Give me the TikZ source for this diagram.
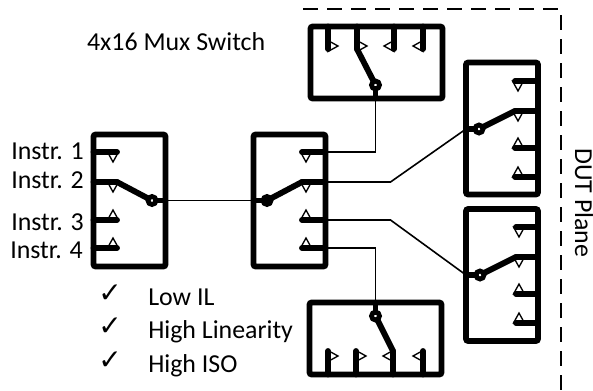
\documentclass[tikz,border=0pt]{standalone}
\usepackage{fontspec}
\setmainfont{Carlito}
\newfontfamily\checkfont{DejaVu Sans}

\tikzstyle{swtall} = [draw=black, rectangle, rounded corners=1.5pt, line width=4.2pt, inner sep=0pt, outer sep=0pt, minimum width=54pt, minimum height=99pt]
\tikzstyle{swwide} = [swtall, minimum width=99pt, minimum height=54pt]
\tikzstyle{pivot} = [draw=black, fill=white, circle, line width=3.6pt, inner sep=0pt, outer sep=0pt, minimum size=6pt]
\tikzstyle{pivotfull} = [pivot, fill=black]
\tikzstyle{stub} = [line width=4.4pt, line cap=round]
\tikzstyle{arm} = [line width=4.4pt, line cap=round]
\tikzstyle{wire} = [line width=1.2pt]
\tikzstyle{triline} = [draw=black, fill=white, line width=1pt, line join=miter]
\tikzstyle{plane} = [line width=1.5pt, dash pattern=on 11.5pt off 6.5pt]
\tikzstyle{lab} = [inner sep=0pt, font=\fontsize{19.4}{22}\selectfont]
\tikzstyle{tick} = [inner sep=0pt, font=\checkfont\fontsize{21}{24}\selectfont]
\tikzset{
  tridn/.pic={\path[triline] (-5.5,0) -- (5.5,0) -- (0,10) -- cycle;},
  triup/.pic={\path[triline] (-5.5,0) -- (5.5,0) -- (0,-10) -- cycle;},
  trirt/.pic={\path[triline] (0,-5.5) -- (0,5.5) -- (10,0) -- cycle;},
  trilf/.pic={\path[triline] (0,-5.5) -- (0,5.5) -- (-10,0) -- cycle;}
}

\begin{document}
\begin{tikzpicture}[x=.75pt, y=-.75pt]
\useasboundingbox (0,0) rectangle (593,390);

\node[swtall] (boxA) at (129.5,200.5) {};
\node[swtall] (boxB) at (289.5,200.5) {};
\node[swwide] (boxC) at (376.5,62.5) {};
\node[swtall] (boxD) at (502,128.5) {};
\node[swtall] (boxE) at (502,275) {};
\node[swwide] (boxF) at (375.5,338.5) {};

\node[pivot] (pivA) at (152,200.5) {};
\node[pivotfull] (pivB) at (267,200.5) {};
\node[pivot] (pivC) at (375.5,85) {};
\node[pivot] (pivD) at (479,129) {};
\node[pivot] (pivE) at (480,275) {};
\node[pivot] (pivF) at (375.5,316) {};

\coordinate (kneeD) at (390.5,182);
\coordinate (kneeE) at (390.5,220);

% left switch
\pic at (113,152) {tridn};
\pic at (113,182) {tridn};
\pic at (113,220) {triup};
\pic at (113,248) {triup};
\draw[stub] (117,152) coordinate (a1) -- (a1 -| boxA.west);
\draw[stub] (117,182) coordinate (a2) -- (a2 -| boxA.west);
\draw[stub] (117,220) coordinate (a3) -- (a3 -| boxA.west);
\draw[stub] (117,248) coordinate (a4) -- (a4 -| boxA.west);
\draw[arm] (pivA) -- (a2);
\draw[stub] (pivA) -- (pivA -| boxA.east);

% middle switch
\pic at (306,152) {tridn};
\pic at (306,182) {tridn};
\pic at (306,220) {triup};
\pic at (306,248) {triup};
\draw[stub] (302,152) coordinate (b1) -- (b1 -| boxB.east);
\draw[stub] (302,182) coordinate (b2) -- (b2 -| boxB.east);
\draw[stub] (302,220) coordinate (b3) -- (b3 -| boxB.east);
\draw[stub] (302,248) coordinate (b4) -- (b4 -| boxB.east);
\draw[arm] (pivB) -- (b2);
\draw[stub] (pivB) -- (pivB -| boxB.west);

% top switch
\pic at (328,46) {trirt};
\pic at (357,46) {trirt};
\pic at (394,46) {trilf};
\pic at (423,46) {trilf};
\draw[stub] (328,49) coordinate (c1) -- (c1 |- boxC.north);
\draw[stub] (357,49) coordinate (c2) -- (c2 |- boxC.north);
\draw[stub] (394,49) coordinate (c3) -- (c3 |- boxC.north);
\draw[stub] (423,49) coordinate (c4) -- (c4 |- boxC.north);
\draw[arm] (pivC) -- (c2);
\draw[stub] (pivC) -- (pivC |- boxC.south);

% right upper switch
\pic at (518,81) {tridn};
\pic at (518,111) {tridn};
\pic at (518,148) {triup};
\pic at (518,177) {triup};
\draw[stub] (515,81) coordinate (d1) -- (d1 -| boxD.east);
\draw[stub] (515,111) coordinate (d2) -- (d2 -| boxD.east);
\draw[stub] (515,148) coordinate (d3) -- (d3 -| boxD.east);
\draw[stub] (515,177) coordinate (d4) -- (d4 -| boxD.east);
\draw[arm] (pivD) -- (d2);
\draw[stub] (pivD) -- (pivD -| boxD.west);

% right lower switch
\pic at (519,227) {tridn};
\pic at (519,257) {tridn};
\pic at (519,294) {triup};
\pic at (519,323) {triup};
\draw[stub] (516,227) coordinate (e1) -- (e1 -| boxE.east);
\draw[stub] (516,257) coordinate (e2) -- (e2 -| boxE.east);
\draw[stub] (516,294) coordinate (e3) -- (e3 -| boxE.east);
\draw[stub] (516,323) coordinate (e4) -- (e4 -| boxE.east);
\draw[arm] (pivE) -- (e2);
\draw[stub] (pivE) -- (pivE -| boxE.west);

% bottom switch
\pic at (328,356) {trirt};
\pic at (356,356) {trirt};
\pic at (393,356) {trilf};
\pic at (423,356) {trilf};
\draw[stub] (328,351) coordinate (f1) -- (f1 |- boxF.south);
\draw[stub] (356,351) coordinate (f2) -- (f2 |- boxF.south);
\draw[stub] (393,351) coordinate (f3) -- (f3 |- boxF.south);
\draw[stub] (423,351) coordinate (f4) -- (f4 |- boxF.south);
\draw[arm] (pivF) -- (f3);
\draw[stub] (pivF) -- (pivF |- boxF.north);

% connections between switches
\draw[wire] (pivA) -- (pivB);
\draw[wire] (pivC) -- (pivC |- b1) -- (b1 -| boxB.east);
\draw[wire] (b2 -| boxB.east) -- (kneeD) -- (pivD -| boxD.west);
\draw[wire] (b3 -| boxB.east) -- (kneeE) -- (pivE -| boxE.west);
\draw[wire] (pivF) -- (pivF |- b4) -- (b4 -| boxB.east);

\draw[plane] (303,9) -| (561,390);

\node[lab, anchor=base east] (instrA) at (84,159) {Instr. 1};
\node[lab, anchor=base east] (instrB) at (84,188) {Instr. 2};
\node[lab, anchor=base east] (instrC) at (84,230) {Instr. 3};
\node[lab, anchor=base east] (instrD) at (83,258) {Instr. 4};
\node[lab, anchor=base east] (muxname) at (265.5,50) {4x16 Mux Switch};
\node[lab, anchor=base west, rotate=-90] (dutname) at (575,148) {DUT Plane};

\node[tick, anchor=base west] (tickA) at (98,302) {✓};
\node[tick, anchor=base west] (tickB) at (98,335) {✓};
\node[tick, anchor=base west] (tickC) at (98,369) {✓};
\node[lab, anchor=base west] (lowil) at (148,305) {Low IL};
\node[lab, anchor=base west] (highlin) at (148,338) {High Linearity};
\node[lab, anchor=base west] (highiso) at (148,372) {High ISO};
\end{tikzpicture}
\end{document}
